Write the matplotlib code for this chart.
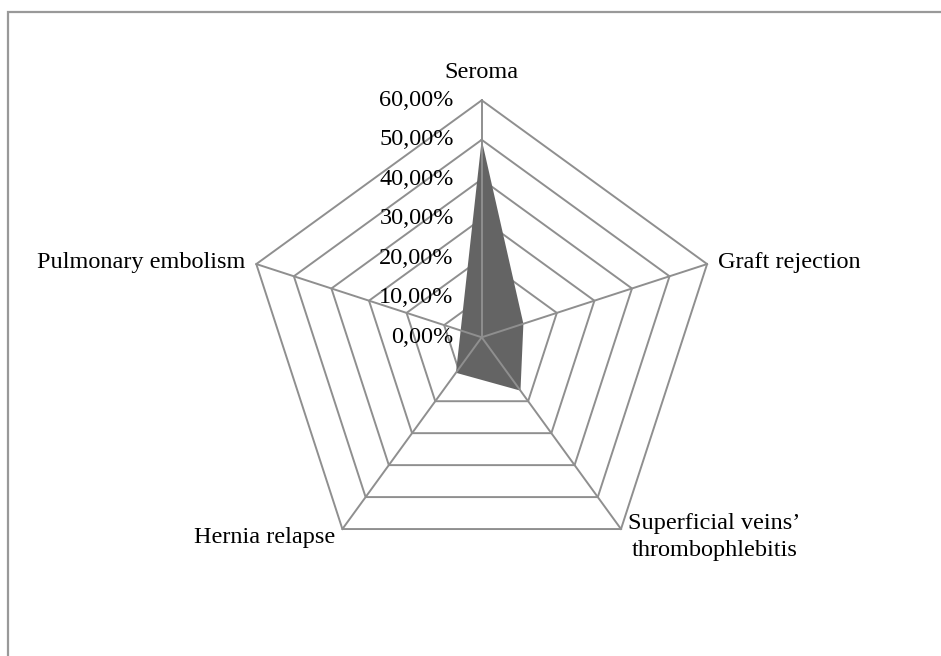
import matplotlib
matplotlib.use("Agg")
import matplotlib.pyplot as plt
import numpy as np
from matplotlib.patches import Rectangle

# ---- data ----
categories = ["Seroma", "Graft rejection", "Superficial veins’\nthrombophlebitis",
              "Hernia relapse", "Pulmonary embolism"]
values = [0.50, 0.111, 0.167, 0.111, 0.056]
ticks = [0.0, 0.1, 0.2, 0.3, 0.4, 0.5, 0.6]
tick_labels = ["0,00%", "10,00%", "20,00%", "30,00%", "40,00%", "50,00%", "60,00%"]

plt.rcParams["font.family"] = ["Liberation Serif", "DejaVu Serif"]
FS = 17.5

W, H = 941, 656
fig = plt.figure(figsize=(W / 100, H / 100), dpi=100)
cx, cy, R = 481.7, 337.3, 237.0
ax = fig.add_axes([(cx - R) / W, (H - cy - R) / H, 2 * R / W, 2 * R / H], projection="polar")
ax.set_theta_zero_location("N")
ax.set_theta_direction(-1)
ax.set_ylim(0, ticks[-1])
ax.grid(False)
ax.spines["polar"].set_visible(False)
ax.set_xticks([])
ax.set_yticks([])
ax.patch.set_visible(False)

n = len(categories)
theta = np.arange(n) * 2 * np.pi / n
closed_t = np.append(theta, theta[0])

grid_col = "#8f8f8f"
for t in ticks[1:]:
    ax.plot(closed_t, [t] * (n + 1), color=grid_col, lw=1.4, zorder=1, clip_on=False)

vals_closed = values + [values[0]]
ax.fill(closed_t, vals_closed, color="#646464", lw=0, zorder=2)

for th in theta:
    ax.plot([th, th], [0, ticks[-1]], color=grid_col, lw=1.4, zorder=3, clip_on=False)

# tick labels on the top spoke
for t, lab in zip(ticks, tick_labels):
    ax.annotate(lab, xy=(0, t), xytext=(-28 * 0.72, 0), textcoords="offset points",
                ha="right", va="center", fontsize=FS, zorder=4, annotation_clip=False)

# category labels
px = 0.72
offsets = [
    ((0, 22 * px), "center", "baseline"),
    ((11 * px, 2 * px), "left", "center"),
    ((7 * px, -8 * px), "left", "center"),
    ((-7 * px, -8 * px), "right", "center"),
    ((-11 * px, 2 * px), "right", "center"),
]
for th, lab, (off, ha, va) in zip(theta, categories, offsets):
    ax.annotate(lab, xy=(th, ticks[-1]), xytext=off, textcoords="offset points",
                ha=ha, va=va, fontsize=FS, multialignment="center",
                linespacing=1.32, annotation_clip=False)

# outer frame (cropped at right and bottom)
fig.patches.append(Rectangle((8 / W, -0.2), 1.5, (H - 12) / H + 0.2,
                             transform=fig.transFigure, fill=False,
                             edgecolor="#999999", lw=1.6))

fig.savefig("out.png", dpi=100)
